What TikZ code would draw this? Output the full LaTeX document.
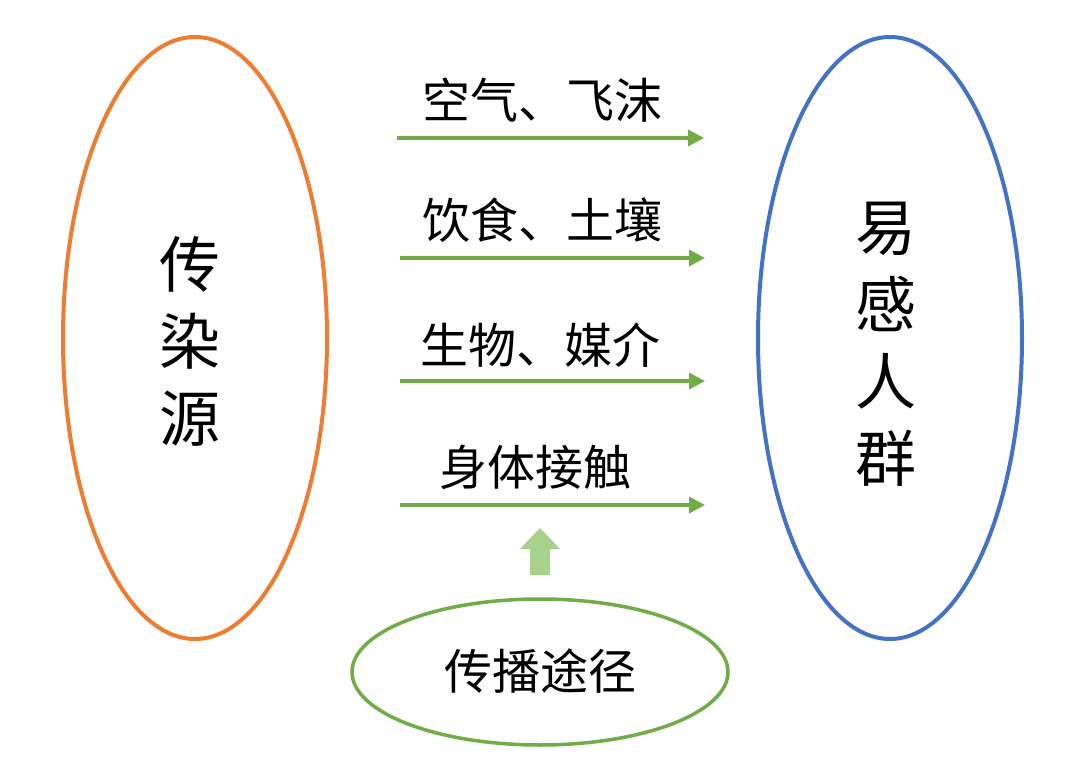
\documentclass[tikz,border=0pt]{standalone}
\usepackage{fontspec}
\newfontfamily\cjk{Noto Sans CJK SC}
\usetikzlibrary{arrows.meta,shapes.geometric}
\definecolor{orng}{HTML}{ED7D31}
\definecolor{blu}{HTML}{4472C4}
\definecolor{grn}{HTML}{70AD47}
\definecolor{lgrn}{HTML}{A9D18E}
\begin{document}
\begin{tikzpicture}[x=1pt,y=-1pt,
  oval/.style={ellipse,draw,line width=4pt,inner sep=0pt},
  flow/.style={draw=grn,line width=3.5pt,-{Triangle[length=16pt,width=16pt]}},
  lbl/.style={font=\cjk\fontsize{48}{50}\selectfont,inner sep=0pt},
  big/.style={font=\cjk\fontsize{61}{77}\selectfont,align=center,inner sep=0pt}]
\useasboundingbox (0,0) rectangle (1080,778);
\fill[white] (0,0) rectangle (1080,778);
% main ovals
\node[oval,draw=orng,minimum width=264pt,minimum height=602pt] (src) at (195,338) {};
\node[oval,draw=blu,minimum width=264pt,minimum height=602pt] (dst) at (890,338) {};
\node[big] (srct) at (190,341) {传\\染\\源};
\node[big] (dstt) at (886,344) {易\\感\\人\\群};
% route arrows
\coordinate (a1) at (397,138); \coordinate (b1) at (704,138);
\coordinate (a2) at (400,258); \coordinate (b2) at (705,258);
\coordinate (a3) at (400,381); \coordinate (b3) at (705,381);
\coordinate (a4) at (400,505); \coordinate (b4) at (705,505);
\draw[flow] (a1) -- (b1);
\draw[flow] (a2) -- (b2);
\draw[flow] (a3) -- (b3);
\draw[flow] (a4) -- (b4);
\node[lbl] (l1) at (542,100) {空气、飞沫};
\node[lbl] (l2) at (542,220) {饮食、土壤};
\node[lbl] (l3) at (540,345) {生物、媒介};
\node[lbl] (l4) at (535,467) {身体接触};
% route oval
\node[oval,draw=grn,line width=3.5pt,minimum width=376pt,minimum height=146pt] (route) at (540,672) {};
\node[lbl] (routet) at (540,671) {传播途径};
% small block arrow
\fill[lgrn] (540,528) -- (560,549) -- (550,549) -- (550,575) -- (530,575) -- (530,549) -- (520,549) -- cycle;
\end{tikzpicture}
\end{document}
